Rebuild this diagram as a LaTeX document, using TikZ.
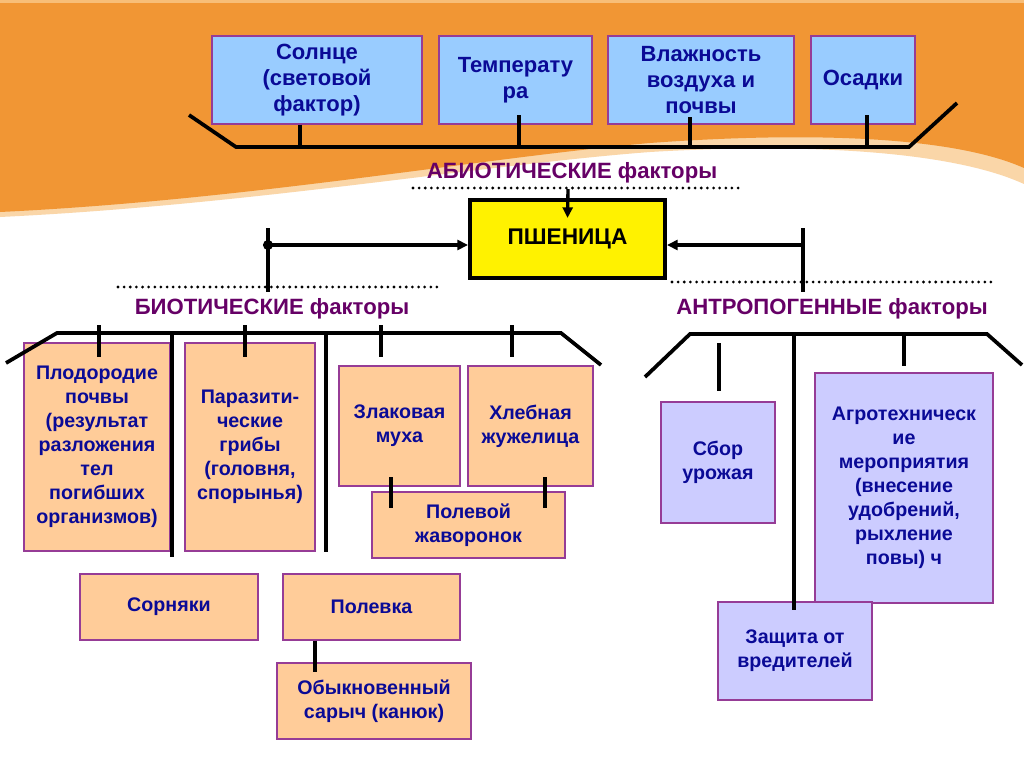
\documentclass[tikz,border=0pt]{standalone}
\usepackage{fontspec}
\setmainfont{Liberation Sans}
\usetikzlibrary{arrows.meta}
\definecolor{orbg}{RGB}{241,150,52}
\definecolor{orfringe}{RGB}{250,214,168}
\definecolor{orlight}{RGB}{248,190,120}
\definecolor{boxline}{RGB}{150,60,150}
\definecolor{boxtext}{RGB}{10,10,150}
\definecolor{titlecol}{RGB}{102,0,102}
\definecolor{abiofill}{RGB}{153,204,255}
\definecolor{biofill}{RGB}{255,204,153}
\definecolor{antfill}{RGB}{204,204,255}
\begin{document}
\begin{tikzpicture}[x=0.75pt,y=-0.75pt,
    busline/.style={line width=2.8pt},
    arr/.style={line width=2.5pt,-{Triangle[length=8pt,width=7.5pt]}},
    dots/.style={line width=2.3pt,line cap=round,dash pattern=on 0pt off 4.6pt},
    sz/.style 2 args={minimum width=#1*0.75pt,minimum height=#2*0.75pt},
    fbox/.style={draw=boxline,line width=1pt,inner sep=0pt,align=center,text=boxtext},
    abio/.style={fbox,fill=abiofill,font=\bfseries\fontsize{16.5}{19.5}\selectfont},
    bio/.style={fbox,fill=biofill,font=\bfseries\fontsize{14.75}{18}\selectfont},
    anthro/.style={fbox,fill=antfill,font=\bfseries\fontsize{14.75}{18}\selectfont},
    grouptitle/.style={text=titlecol,inner sep=0pt,font=\bfseries\fontsize{16.6}{20}\selectfont}]
    \useasboundingbox (0,0) rectangle (1024,767);
    \fill[white] (0,0) rectangle (1024,767);%背景
    \fill[orfringe] (0,0) -- (1024,0) -- (1024,184) .. controls (950,150) and (800,143) .. (650,152) .. controls (480,165) and (250,205) .. (0,217) -- cycle;
    \fill[orbg] (0,0) -- (1024,0) -- (1024,168) .. controls (950,135) and (800,132) .. (650,143) .. controls (480,158) and (250,200) .. (0,212) -- cycle;
    \fill[orlight] (0,0) rectangle (1024,3);
    % 非生物因素
    \node[abio,sz={210}{88}] (sun) at (317,80) {Солнце\\(световой\\фактор)};
    \node[abio,sz={153}{88}] (temp) at (515.5,80) {Температу\\ра};
    \node[abio,sz={186}{88}] (humid) at (701,80) {Влажность\\воздуха и\\почвы};
    \node[abio,sz={104}{88}] (rain) at (863,80) {Осадки};
    \coordinate (abL) at (189,115);
    \coordinate (abR) at (957,103);
    \draw[busline] (abL) -- (236,147) -- (909,147) -- (abR);
    \draw[busline] (sun.south -| 300,0) -- (300,147);
    \draw[busline] (519,115) -- (519,147);
    \draw[busline] (690,117) -- (690,147);
    \draw[busline] (867,115) -- (867,147);
    \node[grouptitle] (abiot) at (572,173) {АБИОТИЧЕСКИЕ факторы};
    \draw[dots] (413,188) -- (741,188);
    % 小麦
    \node[draw,line width=3pt,fill=yellow,sz={195}{78},inner sep=0pt,font=\bfseries\fontsize{17}{20}\selectfont] (wheat) at (567.5,239) {ПШЕНИЦА};
    \coordinate (abtop) at (568,189);
    \draw[arr] (abtop) -- ([yshift=-15pt]wheat.north);
    \coordinate (bioj) at (268,245);
    \coordinate (antj) at (803,245);
    \draw[arr] (bioj) -- (bioj -| wheat.west);
    \draw[arr] (antj) -- (antj -| wheat.east);
    \fill (bioj) circle (3.8pt);
    \draw[busline] (268,228) -- (268,292);
    \draw[busline] (803,228) -- (803,292);
    % 生物因素
    \draw[dots] (118,287) -- (442,287);
    \node[grouptitle] (biot) at (272,309) {БИОТИЧЕСКИЕ факторы};
    \node[bio,sz={146}{208}] (soil) at (97,447) {Плодородие\\почвы\\(результат\\разложения\\тел\\погибших\\организмов)};
    \node[bio,sz={130}{208}] (fungi) at (250,447) {Паразити-\\ческие\\грибы\\(головня,\\спорынья)};
    \node[bio,sz={121}{120}] (fly) at (399.5,426) {Злаковая\\муха};
    \node[bio,sz={125}{120}] (beetle) at (530.5,426) {Хлебная\\жужелица};
    \node[bio,sz={193}{66}] (lark) at (468.5,525) {Полевой\\жаворонок};
    \node[bio,sz={178}{66}] (weeds) at (169,607) {Сорняки};
    \node[bio,sz={177}{66}] (vole) at (371.5,607) {Полевка};
    \node[bio,sz={194}{76}] (buzzard) at (374,701) {Обыкновенный\\сарыч (канюк)};
    \draw[busline] (6,363) -- (57,333) -- (561,333) -- (601,365);
    \foreach \tx in {99,245,381,512}
        \draw[busline] (\tx,325) -- (\tx,357);
    \draw[busline] (172,333) -- (172,557);
    \draw[busline] (326,333) -- (326,552);
    \draw[busline] (391,477) -- (391,508);
    \draw[busline] (545,477) -- (545,508);
    \draw[busline] (vole.south -| 315,0) -- (315,672);
    % 人为因素
    \draw[dots] (672,282) -- (992,282);
    \node[grouptitle] (antt) at (832,309) {АНТРОПОГЕННЫЕ факторы};
    \node[anthro,sz={114}{121}] (harvest) at (718,462.5) {Сбор\\урожая};
    \node[anthro,sz={178}{230}] (agro) at (904,488) {Агротехническ\\ие\\мероприятия\\(внесение\\удобрений,\\рыхление\\повы) ч};
    \node[anthro,sz={154}{98}] (protect) at (795,651) {Защита от\\вредителей};
    \draw[busline] (645,377) -- (690,334) -- (987,334) -- (1022,365);
    \draw[busline] (719,343) -- (719,391);
    \draw[busline] (794,334) -- (794,610);
    \draw[busline] (904,334) -- (904,366);
\end{tikzpicture}
\end{document}
